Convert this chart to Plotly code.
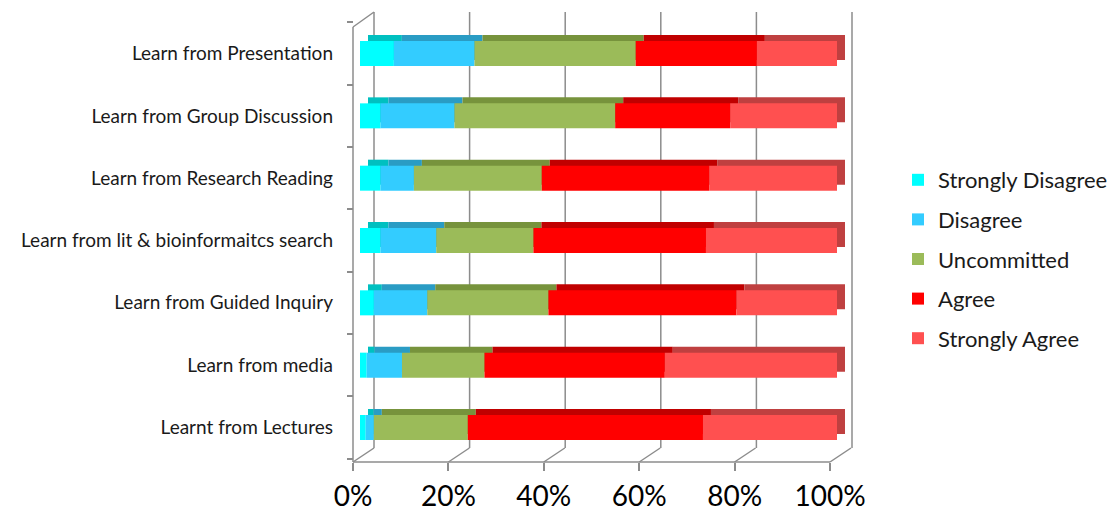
import plotly.graph_objects as go
import numpy as np

categories = [
    "Learnt from Lectures",
    "Learn from media",
    "Learn from Guided Inquiry",
    "Learn from lit & bioinformaitcs search",
    "Learn from Research Reading",
    "Learn from Group Discussion",
    "Learn from Presentation",
]
series_names = ["Strongly Disagree", "Disagree", "Uncommitted", "Agree", "Strongly Agree"]
strongly_disagree = [1.2, 1.4, 2.9, 4.3, 4.3, 4.3, 7.1]
disagree = [1.7, 7.4, 11.2, 11.7, 7.0, 15.5, 16.9]
uncommitted = [19.7, 17.3, 25.4, 20.4, 26.8, 33.7, 33.8]
agree = [49.3, 37.8, 39.4, 36.2, 35.1, 24.1, 25.4]
strongly_agree = [28.1, 36.1, 21.1, 27.5, 26.8, 22.4, 16.8]
tick_values = [0, 0.2, 0.4, 0.6, 0.8, 1.0]
tick_labels = ["0%", "20%", "40%", "60%", "80%", "100%"]

front_colors = ["#00FFFF", "#33CCFF", "#9BBB59", "#FF0000", "#FF5050"]
top_colors = ["#00C0C0", "#2A9CC4", "#77933C", "#C00000", "#BF4040"]
axis_grey = "#8C8C8C"

W, H = 1115, 513
L, R, T, B = 345, 255, 12, 51
pw = W - L - R
ph = H - T - B

# front-face pixel scale: 0 -> 360px, 1 -> 837px
ppu = 477.0
x0px = 360
x_range = [-(x0px - L) / ppu, (W - R - x0px) / ppu]
# back wall: 0 -> 374px, 1 -> 852px
gppu = 478.0
g0 = 374
x2_range = [-(g0 - L) / gppu, (W - R - g0) / gppu]
# floor front edge / labels: 0 -> 353px, 1 -> 830px
l0 = 353
x3_range = [-(l0 - L) / ppu, (W - R - l0) / ppu]

cat_px = 62.33
y_top_val = (427.5 - T) / cat_px
y_range = [y_top_val - ph / cat_px, y_top_val]

bar_w = 25 / cat_px
dy = 6 / cat_px
dx = 8 / ppu
depth_x = 21 / ppu          # floor depth in x3 units
depth_y = 14 / ph           # floor depth in paper units
wall_top = 1 - 15 / ph      # top of left (front) wall edge

series = [strongly_disagree, disagree, uncommitted, agree, strongly_agree]
data = np.array(series) / 100.0
totals = data.sum(axis=0)
data = data / totals
bases = np.vstack([np.zeros(len(categories)), np.cumsum(data, axis=0)[:-1]])

fig = go.Figure()
# depth (top/side faces)
for i, name in enumerate(series_names):
    fig.add_trace(go.Bar(
        y=categories, x=data[i], base=bases[i] + dx, orientation="h",
        width=bar_w, offset=-bar_w / 2 + dy,
        marker=dict(color=top_colors[i], line=dict(width=0)),
        showlegend=False, hoverinfo="skip", xaxis="x", yaxis="y",
    ))
# front faces
for i, name in enumerate(series_names):
    fig.add_trace(go.Bar(
        y=categories, x=data[i], base=bases[i], orientation="h",
        width=bar_w, offset=-bar_w / 2, name=name,
        marker=dict(color=front_colors[i], line=dict(width=0)),
        legendgroup=name, xaxis="x", yaxis="y",
    ))
# helper traces so overlay axes exist
fig.add_trace(go.Scatter(x=[0.5], y=[categories[0]], xaxis="x2", yaxis="y",
                         mode="markers", marker=dict(opacity=0), showlegend=False, hoverinfo="skip"))
fig.add_trace(go.Scatter(x=[0.5], y=[categories[0]], xaxis="x3", yaxis="y",
                         mode="markers", marker=dict(opacity=0), showlegend=False, hoverinfo="skip"))

# 3D frame: back-wall gridlines, floor diagonals, front edges
shapes = []
line_style = dict(color=axis_grey, width=1.5)
for v in tick_values:
    shapes.append(dict(type="line", xref="x2", yref="paper", x0=v, x1=v,
                       y0=depth_y, y1=1, line=line_style, layer="below"))
    shapes.append(dict(type="line", xref="x3", yref="paper", x0=v, x1=v + depth_x,
                       y0=0, y1=depth_y, line=line_style, layer="below"))
shapes.append(dict(type="line", xref="x3", yref="paper", x0=0, x1=1, y0=0, y1=0,
                   line=line_style, layer="below"))
shapes.append(dict(type="line", xref="x3", yref="paper", x0=0, x1=0, y0=0, y1=wall_top,
                   line=line_style, layer="below"))
shapes.append(dict(type="line", xref="x3", yref="paper", x0=0, x1=depth_x, y0=wall_top, y1=1,
                   line=line_style, layer="below"))

font_family = "Lato, Carlito, 'Open Sans', sans-serif"
fig.update_layout(
    width=W, height=H,
    margin=dict(l=L, r=R, t=T, b=B, autoexpand=False),
    paper_bgcolor="white", plot_bgcolor="rgba(0,0,0,0)",
    barmode="overlay",
    shapes=shapes,
    font=dict(family=font_family, color="#1a1a1a"),
    xaxis=dict(range=x_range, showgrid=False, zeroline=False, showticklabels=False,
               showline=False, ticks="", automargin=False),
    xaxis2=dict(range=x2_range, overlaying="x", anchor="y", showgrid=False,
                showticklabels=False, zeroline=False, showline=False, ticks="",
                automargin=False),
    xaxis3=dict(range=x3_range, overlaying="x", anchor="y", side="bottom",
                tickvals=tick_values, ticktext=tick_labels, showgrid=False,
                zeroline=False, showline=False,
                ticks="outside", ticklen=8, tickcolor=axis_grey, tickwidth=1.5,
                ticklabelstandoff=1, automargin=False,
                tickfont=dict(size=28, color="#000000")),
    yaxis=dict(range=y_range, type="category", categoryorder="array", categoryarray=categories,
               showgrid=False, zeroline=False, anchor="free", automargin=False,
               position=(l0 - L) / pw, showline=False,
               ticks="outside", ticklen=6, tickcolor=axis_grey, tickwidth=1.5,
               tickson="boundaries", ticklabelstandoff=20,
               tickfont=dict(size=19, color="#1a1a1a")),
    legend=dict(x=(898 - L) / pw, y=1 - (159 - T) / ph, xanchor="left", yanchor="top",
                traceorder="grouped", tracegroupgap=8, font=dict(size=22, color="#1a1a1a"),
                bgcolor="rgba(0,0,0,0)"),
)

fig.write_html("out.html")
